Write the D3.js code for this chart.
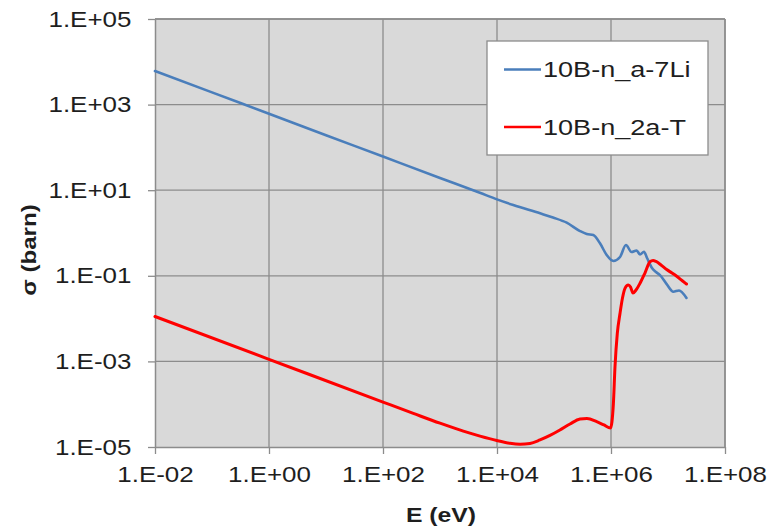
<!DOCTYPE html>
<html>
<head>
<meta charset="utf-8">
<script src="https://cdn.jsdelivr.net/npm/d3@7"></script>
<style>
  html, body { margin: 0; padding: 0; background: #fff; }
  svg { display: block; font-family: "Liberation Sans", Arial, sans-serif; }
</style>
</head>
<body>
<svg id="chart" width="768" height="530"></svg>
<script>
// ---- data ----
const xTicks = [1e-2, 1e0, 1e2, 1e4, 1e6, 1e8];
const xTickLabels = ["1.E-02", "1.E+00", "1.E+02", "1.E+04", "1.E+06", "1.E+08"];
const yTicks = [1e-5, 1e-3, 1e-1, 1e1, 1e3, 1e5];
const yTickLabels = ["1.E-05", "1.E-03", "1.E-01", "1.E+01", "1.E+03", "1.E+05"];
const seriesNames = ["10B-n_a-7Li", "10B-n_2a-T"];

const energyLi = [0.01, 0.1, 1, 10, 100, 1000, 5000, 1.0e4, 1.93e4, 5.7e4, 9.6e4, 1.67e5, 2.86e5, 3.75e5, 4.89e5,
  6.41e5, 8.4e5, 1.10e6, 1.44e6, 1.83e6, 2.29e6, 2.82e6, 3.23e6, 3.79e6, 4.29e6, 5.24e6, 6.15e6, 7.24e6,
  9.48e6, 1.24e7, 1.56e7, 2.11e7];
const sigmaLi = [6100, 1930, 610, 193, 61, 19.3, 8.7, 6.1, 4.5, 2.88, 2.30, 1.74, 1.11, 0.95, 0.90,
  0.574, 0.306, 0.222, 0.275, 0.525, 0.36, 0.39, 0.315, 0.366, 0.26, 0.152, 0.123, 0.104,
  0.064, 0.0425, 0.0454, 0.0303];

const energyT = [0.01, 1, 100, 340, 1000, 2570, 5040, 9900, 1.69e4, 2.54e4, 3.79e4, 5.68e4, 8.5e4, 1.27e5,
  1.91e5, 2.86e5, 3.79e5, 5.61e5, 7.53e5, 9.8e5, 1.10e6, 1.175e6, 1.29e6, 1.44e6, 1.59e6, 1.76e6, 2.01e6,
  2.20e6, 2.43e6, 2.75e6, 3.23e6, 3.94e6, 4.83e6, 5.46e6, 6.15e6, 7.53e6, 9.48e6, 1.175e7, 1.44e7, 1.76e7, 2.11e7];
const sigmaT = [0.0112, 0.00112, 1.12e-4, 6.1e-5, 3.6e-5, 2.35e-5, 1.80e-5, 1.42e-5, 1.22e-5, 1.16e-5, 1.21e-5,
  1.46e-5, 1.86e-5, 2.49e-5, 3.45e-5, 4.5e-5, 4.63e-5, 3.9e-5, 3.27e-5, 2.78e-5, 1.0e-4, 7.5e-4, 4.5e-3,
  0.0133, 0.0303, 0.051, 0.061, 0.0547, 0.0396, 0.0466, 0.0668, 0.116, 0.213, 0.227, 0.216, 0.179, 0.140,
  0.116, 0.096, 0.0777, 0.0643];

const seriesColors = ["#4a7ebb", "#ff0000"];

// ---- layout ----
const svg = d3.select("#chart");
const plot = { left: 155, right: 725, top: 19, bottom: 447 };
const x = d3.scaleLog().domain([1e-2, 1e8]).range([plot.left, plot.right]);
const y = d3.scaleLog().domain([1e-5, 1e5]).range([plot.bottom, plot.top]);
const gridColor = "#8c8c8c";
const textColor = "#1e1e1e";
const sx = 1.18;

// plot background
svg.append("rect")
  .attr("x", plot.left).attr("y", plot.top)
  .attr("width", plot.right - plot.left).attr("height", plot.bottom - plot.top)
  .attr("fill", "#d9d9d9");

// grid
svg.append("g").selectAll("line").data(xTicks.slice(1)).join("line")
  .attr("x1", d => x(d)).attr("x2", d => x(d))
  .attr("y1", plot.top).attr("y2", plot.bottom)
  .attr("stroke", gridColor).attr("stroke-width", 1.3);
svg.append("g").selectAll("line").data(yTicks.slice(1)).join("line")
  .attr("x1", plot.left).attr("x2", plot.right)
  .attr("y1", d => y(d)).attr("y2", d => y(d))
  .attr("stroke", gridColor).attr("stroke-width", 1.3);

// axes
const xAxis = d3.axisBottom(x).tickValues(xTicks)
  .tickFormat((d, i) => xTickLabels[i]).tickSize(7).tickSizeOuter(0).tickPadding(12);
const yAxis = d3.axisLeft(y).tickValues(yTicks)
  .tickFormat((d, i) => yTickLabels[i]).tickSize(7).tickSizeOuter(0).tickPadding(13);

const gx = svg.append("g").attr("transform", `translate(0,${plot.bottom})`).call(xAxis);
const gy = svg.append("g").attr("transform", `translate(${plot.left},0)`).call(yAxis);
[gx, gy].forEach(g => {
  g.select(".domain").attr("stroke", gridColor).attr("stroke-width", 1.5);
  g.selectAll(".tick line").attr("stroke", gridColor).attr("stroke-width", 1.3);
  g.selectAll(".tick text")
    .attr("fill", textColor)
    .style("font-size", "22px")
    .style("font-family", '"Liberation Sans", Arial, sans-serif')
    .attr("transform", `scale(${sx},1)`);
});

// top / right border of plot
svg.append("line").attr("x1", plot.left).attr("x2", plot.right)
  .attr("y1", plot.top).attr("y2", plot.top).attr("stroke", gridColor).attr("stroke-width", 1.5);
svg.append("line").attr("x1", plot.right).attr("x2", plot.right)
  .attr("y1", plot.top).attr("y2", plot.bottom).attr("stroke", gridColor).attr("stroke-width", 1.5);

// lines
const line = d3.line().x(d => x(d[0])).y(d => y(d[1])).curve(d3.curveMonotoneX);
const dataLi = energyLi.map((e, i) => [e, sigmaLi[i]]);
const dataT = energyT.map((e, i) => [e, sigmaT[i]]);

svg.append("path").datum(dataLi).attr("d", line)
  .attr("fill", "none").attr("stroke", seriesColors[0]).attr("stroke-width", 2.6)
  .attr("stroke-linejoin", "round").attr("stroke-linecap", "round");
svg.append("path").datum(dataT).attr("d", line)
  .attr("fill", "none").attr("stroke", seriesColors[1]).attr("stroke-width", 3)
  .attr("stroke-linejoin", "round").attr("stroke-linecap", "round");

// legend
const lg = svg.append("g");
lg.append("rect").attr("x", 487).attr("y", 41).attr("width", 221).attr("height", 114)
  .attr("fill", "#fff").attr("stroke", gridColor).attr("stroke-width", 1.3);
const legendRows = [69.5, 127];
seriesNames.forEach((name, i) => {
  lg.append("line").attr("x1", 504).attr("x2", 541)
    .attr("y1", legendRows[i]).attr("y2", legendRows[i])
    .attr("stroke", seriesColors[i]).attr("stroke-width", 2.6);
  lg.append("text")
    .attr("transform", `translate(543,${legendRows[i] + 7.5}) scale(1.26,1)`)
    .attr("fill", textColor)
    .style("font-size", "21.5px")
    .text(name);
});

// axis titles
svg.append("text")
  .attr("transform", `translate(441,522) scale(${sx},1)`)
  .attr("text-anchor", "middle")
  .attr("fill", textColor)
  .style("font-size", "21px").style("font-weight", "bold")
  .text("E (eV)");
svg.append("text")
  .attr("transform", "translate(36,250) rotate(-90) scale(1.15,1)")
  .attr("text-anchor", "middle")
  .attr("fill", textColor)
  .style("font-size", "21px").style("font-weight", "bold")
  .text("σ (barn)");
</script>
</body>
</html>
